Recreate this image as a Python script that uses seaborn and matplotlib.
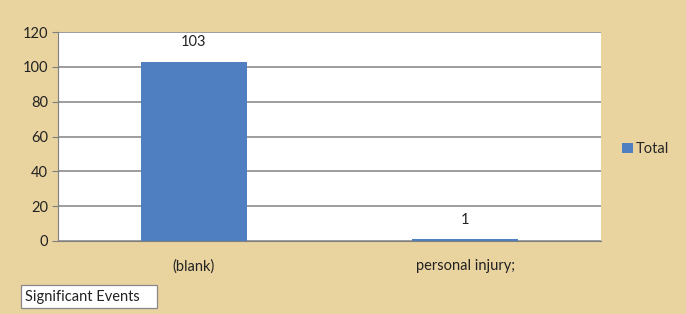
import matplotlib
matplotlib.use("Agg")
import matplotlib.pyplot as plt
import matplotlib.patches as mpatches
import seaborn as sns
import pandas as pd

categories = ["(blank)", "personal injury;"]
totals = [103, 1]
series_name = "Total"
yticks = [0, 20, 40, 60, 80, 100, 120]

df = pd.DataFrame({"category": categories, "value": totals, "series": series_name})

sns.set_style("white")
plt.rcParams["font.family"] = ["Lato", "DejaVu Sans"]

fig = plt.figure(figsize=(6.86, 3.14), dpi=100)
fig.patch.set_facecolor("#E9D4A0")
ax = fig.add_axes([58/686, 1-241/314, 543/686, 209/314])
ax.set_facecolor("white")

sns.barplot(data=df, x="category", y="value", hue="series", palette=["#4F7FC0"],
            width=0.39, ax=ax, legend=True, saturation=1, linewidth=0)

ax.set_ylim(0, 120)
ax.set_yticks(yticks)
ax.yaxis.grid(True, color="#8C8C8C", linewidth=1.2)
ax.set_axisbelow(True)
ax.set_xlabel("")
ax.set_ylabel("")
for s in ["top", "right"]:
    ax.spines[s].set_visible(False)
ax.spines["left"].set_color("#7F7F7F")
ax.spines["bottom"].set_color("#7F7F7F")
ax.tick_params(axis="y", length=4, color="#7F7F7F", labelsize=10.5, labelcolor="#222222", pad=3, left=True)
ax.tick_params(axis="x", length=0, labelsize=10.5, labelcolor="#222222", pad=13)

for cont in ax.containers:
    ax.bar_label(cont, labels=[str(v) for v in totals], padding=9, fontsize=10.5,
                 color="#222222")

leg = ax.legend(loc="center left", bbox_to_anchor=(1.015, 0.44), frameon=False,
                handlelength=0.75, handleheight=0.75, handletextpad=0.15,
                prop={"size": 10.5})

box = mpatches.Rectangle((21/686, 1-308/314), 136/686, 23/314, transform=fig.transFigure,
                         facecolor="white", edgecolor="#888888", linewidth=0.9)
fig.patches.append(box)
fig.text(25/686, 1-296.5/314, "Significant Events", fontsize=10.5, color="#222222", va="center")

fig.savefig("out.png", dpi=100, facecolor=fig.get_facecolor())
